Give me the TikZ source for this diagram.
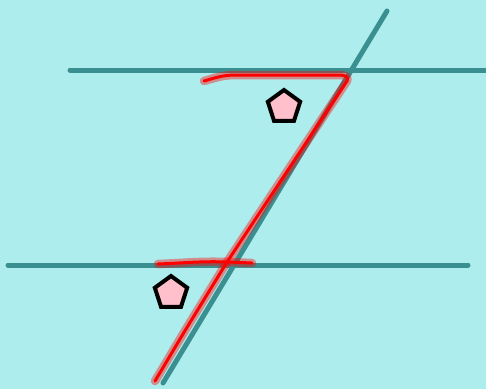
\documentclass[tikz,border=0pt]{standalone}
\usetikzlibrary{shapes.geometric}
\definecolor{bgcyan}{HTML}{AEEDED}
\definecolor{tealline}{HTML}{3A9090}
\definecolor{pent}{HTML}{FFC0CB}
\tikzset{
  tealstroke/.style={draw=tealline,line width=5pt,line cap=round},
  redhalo/.style={draw=red,opacity=0.4,line width=8.5pt,line cap=round,line join=round},
  redcore/.style={draw=red,line width=3pt,line cap=round,line join=round},
  pentagon/.style={regular polygon,regular polygon sides=5,minimum size=34pt,inner sep=0pt,draw=black,fill=pent,line width=4pt}
}
\begin{document}
\begin{tikzpicture}[x=1pt,y=-1pt]
\fill[bgcyan] (0,0) rectangle (486,389);
\useasboundingbox (0,0) rectangle (486,389);
% teal lines
\draw[tealstroke] (70,70) -- (486,70);
\draw[tealstroke] (8,265) -- (468,265);
\draw[tealstroke] (387,11) -- (163,383);
% red strokes
\foreach \s in {redhalo,redcore}{
  \draw[\s] (204,81) .. controls (215,78) and (222,75) .. (236,75) -- (338,75) .. controls (346,75) and (349,77) .. (347,81)
    -- (227,262) -- (186,329) -- (155,381);
  \draw[\s] (158,264) .. controls (185,263) and (200,261) .. (228,262) -- (252,263);
}
% pentagons
\node[pentagon] (p1) at (284,107) {};
\node[pentagon] (p2) at (171,293) {};
\end{tikzpicture}
\end{document}
